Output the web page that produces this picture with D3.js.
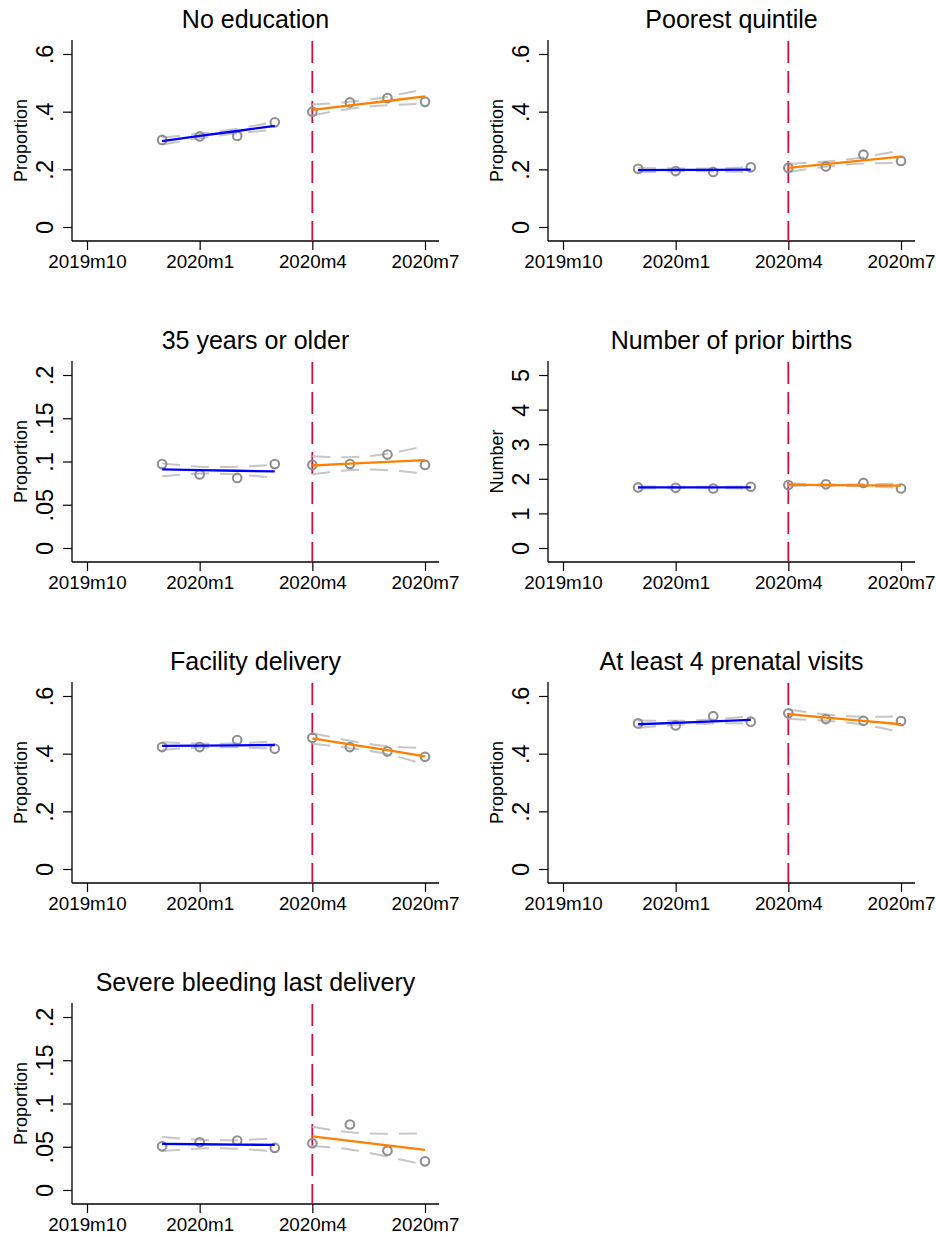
<!DOCTYPE html>
<html>
<head>
<meta charset="utf-8">
<script src="https://cdn.jsdelivr.net/npm/d3@7"></script>
<style>
  html, body { margin: 0; padding: 0; background: #fff; }
  svg { display: block; font-family: "Liberation Sans", Arial, Helvetica, sans-serif; }
</style>
</head>
<body>
<svg id="chart" width="936" height="1237"></svg>
<script>
// ---------------- data ----------------
const xTickValues = ["2019m10", "2020m1", "2020m4", "2020m7"];
const xTickLabels = ["2019m10", "2020m1", "2020m4", "2020m7"];
const preMonths  = ["2019m12", "2020m1", "2020m2", "2020m3"];
const postMonths = ["2020m4", "2020m5", "2020m6", "2020m7"];
const cutMonth = "2020m4";

const panelTitles = ["No education", "Poorest quintile", "35 years or older", "Number of prior births",
                     "Facility delivery", "At least 4 prenatal visits", "Severe bleeding last delivery"];
const panelYTitles = ["Proportion", "Proportion", "Proportion", "Number", "Proportion", "Proportion", "Proportion"];
const panelYTicks = [
  [0, 0.2, 0.4, 0.6], [0, 0.2, 0.4, 0.6], [0, 0.05, 0.1, 0.15, 0.2], [0, 1, 2, 3, 4, 5],
  [0, 0.2, 0.4, 0.6], [0, 0.2, 0.4, 0.6], [0, 0.05, 0.1, 0.15, 0.2]
];
const panelYTickLabels = [
  ["0", ".2", ".4", ".6"], ["0", ".2", ".4", ".6"], ["0", ".05", ".1", ".15", ".2"], ["0", "1", "2", "3", "4", "5"],
  ["0", ".2", ".4", ".6"], ["0", ".2", ".4", ".6"], ["0", ".05", ".1", ".15", ".2"]
];

// observed monthly values
const prePoints = [
  [0.302, 0.314, 0.316, 0.363],
  [0.202, 0.194, 0.191, 0.207],
  [0.097, 0.085, 0.081, 0.097],
  [1.75, 1.74, 1.72, 1.77],
  [0.423, 0.423, 0.447, 0.417],
  [0.505, 0.498, 0.530, 0.511],
  [0.0505, 0.0552, 0.0571, 0.0487]
];
const postPoints = [
  [0.400, 0.432, 0.447, 0.434],
  [0.205, 0.210, 0.251, 0.229],
  [0.096, 0.097, 0.108, 0.096],
  [1.82, 1.84, 1.88, 1.72],
  [0.455, 0.423, 0.408, 0.389],
  [0.540, 0.520, 0.514, 0.513],
  [0.054, 0.0757, 0.0455, 0.0331]
];
// fitted lines
const preFit = [
  [0.298, 0.316, 0.333, 0.351],
  [0.197, 0.198, 0.198, 0.199],
  [0.0908, 0.0900, 0.0893, 0.0885],
  [1.75, 1.75, 1.75, 1.75],
  [0.427, 0.428, 0.429, 0.430],
  [0.502, 0.507, 0.512, 0.517],
  [0.0533, 0.0529, 0.0525, 0.0521]
];
const postFit = [
  [0.406, 0.422, 0.437, 0.453],
  [0.205, 0.218, 0.231, 0.244],
  [0.0954, 0.0975, 0.0995, 0.1016],
  [1.83, 1.82, 1.81, 1.80],
  [0.453, 0.432, 0.412, 0.391],
  [0.537, 0.525, 0.514, 0.502],
  [0.0621, 0.0568, 0.0516, 0.0463]
];
// confidence bands
const preLo = [
  [0.286, 0.308, 0.325, 0.337],
  [0.189, 0.193, 0.193, 0.191],
  [0.083, 0.086, 0.085, 0.081],
  [1.72, 1.73, 1.73, 1.72],
  [0.414, 0.421, 0.422, 0.417],
  [0.489, 0.500, 0.505, 0.504],
  [0.0450, 0.0480, 0.0478, 0.0444]
];
const preHi = [
  [0.310, 0.324, 0.341, 0.365],
  [0.205, 0.203, 0.203, 0.207],
  [0.098, 0.094, 0.094, 0.096],
  [1.78, 1.77, 1.77, 1.78],
  [0.440, 0.435, 0.436, 0.443],
  [0.515, 0.514, 0.519, 0.530],
  [0.0612, 0.0580, 0.0576, 0.0598]
];
const postLo = [
  [0.387, 0.410, 0.422, 0.428],
  [0.191, 0.209, 0.220, 0.222],
  [0.085, 0.090, 0.090, 0.086],
  [1.79, 1.80, 1.78, 1.74],
  [0.435, 0.419, 0.398, 0.362],
  [0.521, 0.514, 0.500, 0.474],
  [0.0510, 0.0469, 0.0386, 0.0290]
];
const postHi = [
  [0.425, 0.434, 0.452, 0.478],
  [0.219, 0.227, 0.242, 0.266],
  [0.106, 0.105, 0.109, 0.118],
  [1.87, 1.84, 1.84, 1.86],
  [0.471, 0.445, 0.426, 0.420],
  [0.553, 0.536, 0.528, 0.530],
  [0.0732, 0.0667, 0.0649, 0.0656]
];

// ---------------- layout ----------------
const colLeft = [72, 548];
const rowTop = [40, 361, 682, 1003];
const plotW = 367, plotH = 201;
const padY = 14, padXL = 15, padXR = 14;

const monthIndex = m => { const [yy, mm] = m.split("m").map(Number); return (yy - 2019) * 12 + mm - 10; };

const svg = d3.select("#chart");

panelTitles.forEach((title, p) => {
  const left = colLeft[p % 2], top = rowTop[Math.floor(p / 2)];
  const right = left + plotW, bottom = top + plotH;
  const ticks = panelYTicks[p];

  const x = d3.scaleLinear()
    .domain([monthIndex(xTickValues[0]), monthIndex(xTickValues[xTickValues.length - 1])])
    .range([left + padXL, right - padXR]);
  const y = d3.scaleLinear()
    .domain([ticks[0], ticks[ticks.length - 1]])
    .range([bottom - padY, top + padY]);

  const g = svg.append("g");

  // title
  g.append("text").attr("x", (left + right) / 2).attr("y", top - 12)
    .attr("text-anchor", "middle").attr("font-size", 25).attr("fill", "#000").text(title);

  // y axis title
  g.append("text")
    .attr("transform", `translate(${left - 45},${(top + bottom) / 2}) rotate(-90)`)
    .attr("text-anchor", "middle").attr("font-size", 18).attr("fill", "#000")
    .text(panelYTitles[p]);

  // x axis
  const xAxis = g.append("g").attr("transform", `translate(0,${bottom})`)
    .call(d3.axisBottom(x).tickValues(xTickValues.map(monthIndex))
      .tickFormat((d, i) => xTickLabels[i]).tickSize(9).tickSizeOuter(0).tickPadding(5));
  xAxis.select(".domain").remove();
  xAxis.selectAll("text").attr("font-size", 18.8).attr("fill", "#000").attr("font-family", null);
  xAxis.selectAll("line").attr("stroke", "#000").attr("stroke-width", 1.2);

  // y axis
  const yAxis = g.append("g").attr("transform", `translate(${left},0)`)
    .call(d3.axisLeft(y).tickValues(ticks).tickFormat((d, i) => panelYTickLabels[p][i]).tickSize(9).tickSizeOuter(0));
  yAxis.select(".domain").remove();
  yAxis.selectAll("line").attr("stroke", "#000").attr("stroke-width", 1.2);
  yAxis.selectAll("text")
    .attr("x", null).attr("dy", null)
    .attr("text-anchor", "middle")
    .attr("transform", "translate(-19,0) rotate(-90)")
    .attr("font-size", 23.5).attr("fill", "#000").attr("font-family", null);

  // axis lines
  g.append("line").attr("x1", left).attr("x2", left).attr("y1", top).attr("y2", bottom)
    .attr("stroke", "#000").attr("stroke-width", 1.3);
  g.append("line").attr("x1", left).attr("x2", right).attr("y1", bottom).attr("y2", bottom)
    .attr("stroke", "#000").attr("stroke-width", 1.3);

  // cut line
  g.append("line")
    .attr("x1", x(monthIndex(cutMonth))).attr("x2", x(monthIndex(cutMonth)))
    .attr("y1", top + 1).attr("y2", bottom)
    .attr("stroke", "#cc0e45").attr("stroke-width", 1.8).attr("stroke-dasharray", "22,8");

  const segs = [
    { months: preMonths, pts: prePoints[p], fit: preFit[p], lo: preLo[p], hi: preHi[p], color: "#0000ff" },
    { months: postMonths, pts: postPoints[p], fit: postFit[p], lo: postLo[p], hi: postHi[p], color: "#ff7f00" }
  ];

  const ciLine = d3.line().x(d => x(d[0])).y(d => y(d[1])).curve(d3.curveNatural);
  const fitLine = d3.line().x(d => x(d[0])).y(d => y(d[1]));

  segs.forEach(s => {
    const mi = s.months.map(monthIndex);
    [s.lo, s.hi].forEach(arr => {
      g.append("path").attr("d", ciLine(mi.map((m, i) => [m, arr[i]])))
        .attr("fill", "none").attr("stroke", "#c6c6c6").attr("stroke-width", 2)
        .attr("stroke-dasharray", "18,11");
    });
  });
  segs.forEach(s => {
    const mi = s.months.map(monthIndex);
    g.selectAll(null).data(mi.map((m, i) => [m, s.pts[i]])).enter().append("circle")
      .attr("cx", d => x(d[0])).attr("cy", d => y(d[1])).attr("r", 4.3)
      .attr("fill", "none").attr("stroke", "#8f8f8f").attr("stroke-width", 2.1);
  });
  segs.forEach(s => {
    const mi = s.months.map(monthIndex);
    g.append("path").attr("d", fitLine(mi.map((m, i) => [m, s.fit[i]])))
      .attr("fill", "none").attr("stroke", s.color).attr("stroke-width", 2.3);
  });
});
</script>
</body>
</html>
